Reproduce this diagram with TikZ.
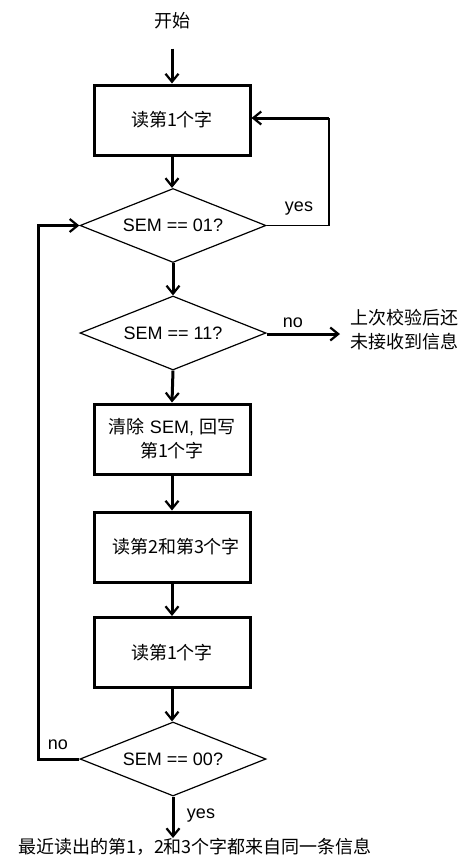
\documentclass[tikz,border=0pt]{standalone}
\usepackage{fontspec}
\setmainfont{Liberation Sans}
\newfontfamily\cjk{Noto Sans CJK SC}
\usetikzlibrary{shapes.geometric,arrows.meta}
\begin{document}
\begin{tikzpicture}[x=1pt,y=-1pt,
  font=\fontsize{18}{24}\selectfont,
  box/.style={draw,line width=3pt,minimum width=156pt,minimum height=70pt,inner sep=0pt,align=center},
  dia/.style={draw,line width=1.2pt,diamond,aspect=2.5,minimum width=186pt,minimum height=74pt,inner sep=0pt},
  arr/.style={line width=3pt,-{Straight Barb[length=8pt,width=13pt,line width=2.2pt]}},
  thin/.style={line width=1.3pt},
  lbl/.style={inner sep=0pt}]
\useasboundingbox (0,0) rectangle (465,863);
\node[lbl] (start) at (172,21) {\cjk 开始};
\node[box] (b1) at (172,120) {\cjk 读第1个字};
\node[dia] (d1) at (173,225.5) {SEM == 01?};
\node[dia] (d2) at (173,333) {SEM == 11?};
\node[box] (b3) at (172,439) {{\cjk 清除} SEM, {\cjk 回写}\\{\cjk 第1个字}};
\node[box] (b4) at (172,547) {\hspace{8pt}\cjk 读第2和第3个字};
\node[box] (b5) at (172,652.5) {\cjk 读第1个字};
\node[dia] (d3) at (173,759) {SEM == 00?};
\node[lbl,align=left,anchor=west] (msg) at (350,330) {\cjk 上次校验后还\\\cjk 未接收到信息};
\node[lbl,anchor=north] (fin) at (195,838) {\cjk 最近读出的第1，2和3个字都来自同一条信息};
\node[lbl] (y1) at (299,209) {yes};
\node[lbl] (n2) at (293,323) {no};
\node[lbl] (n3) at (58,745) {no};
\node[lbl] (y3) at (201,816) {yes};
\coordinate (r1) at (329,118);
\coordinate (l1) at (38,225.5);
\draw[arr] ([yshift=-19pt]start.south) -- (b1.north);
\draw[arr] (b1.south) -- (b1.south |- d1.north);
\draw[thin] (d1.east) -| (r1);
\draw[arr] (r1) -- (r1 -| b1.east);
\draw[arr] (d1.south) -- (d1.south |- d2.north);
\draw[arr] (d2.east) ++(0,1) -- (340,334);
\draw[arr] (d2.south) -- (b3.north);
\draw[arr] (b3.south) -- (b4.north);
\draw[arr] (b4.south) -- (b5.north);
\draw[arr] (b5.south) -- (b5.south |- d3.north);
\draw[arr] (d3.west) -| (l1) -- (d1.west);
\draw[arr] (d3.south) -- (d3.south |- fin.north);
\end{tikzpicture}
\end{document}
